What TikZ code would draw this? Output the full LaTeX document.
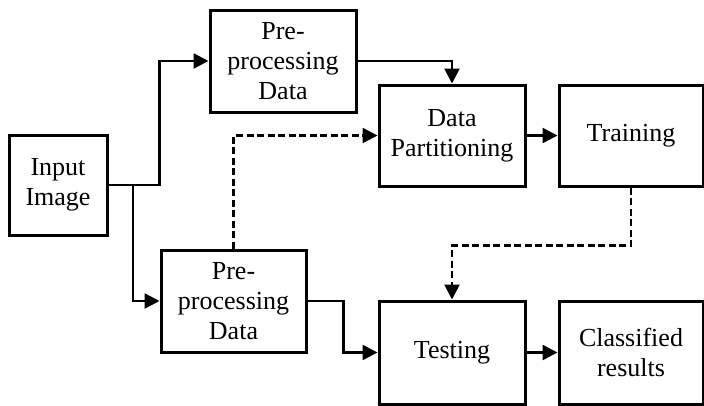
\documentclass[tikz,border=0pt]{standalone}
\usepackage{fontspec}
\setmainfont{Liberation Serif}
\usetikzlibrary{arrows.meta, positioning}

\begin{document}
\begin{tikzpicture}[x=1pt,y=-1pt,
  every node/.style={font=\fontsize{26}{30}\selectfont},
  box/.style={draw,line width=3pt,align=center,inner sep=0pt},
  arr/.style={line width=2.5pt,-{Triangle[length=15pt,width=15pt]}},
  dsh/.style={arr,dash pattern=on 7pt off 3.5pt}]
  \useasboundingbox (0,0) rectangle (704,405);
  \node[box,minimum width=98pt,minimum height=100pt] (in) at (58,185){Input\\Image};
  \node[box,minimum width=146pt,minimum height=102pt] (pre1) at (283,61){Pre-\\processing\\Data};
  \node[box,minimum width=146pt,minimum height=101pt] (dp) at (452,135.5){Data\\Partitioning};
  \node[box,minimum width=144pt,minimum height=101pt] (train) at (631,135.5){Training};
  \node[box,minimum width=145pt,minimum height=102pt] (pre2) at (233.5,301){Pre-\\processing\\Data};
  \node[box,minimum width=146pt,minimum height=103pt] (test) at (452,352.5){Testing};
  \node[box,minimum width=144pt,minimum height=103pt] (cls) at (631,352.5){Classified\\results};
  \coordinate (split) at (133,185);
  \draw[arr](in.east)--++(51,0)|-(pre1.west);
  \draw[arr](split)|-(pre2.west);
  \draw[arr](pre1.east)-|(dp.north);
  \draw[dsh](pre2.north)|-(dp.west);
  \draw[arr](dp)--(train);
  \draw[arr](pre2.east)--++(36,0)|-(test.west);
  \draw[dsh](train.south)--++(0,58)-|(test.north);
  \draw[arr](test)--(cls);
\end{tikzpicture}
\end{document}
